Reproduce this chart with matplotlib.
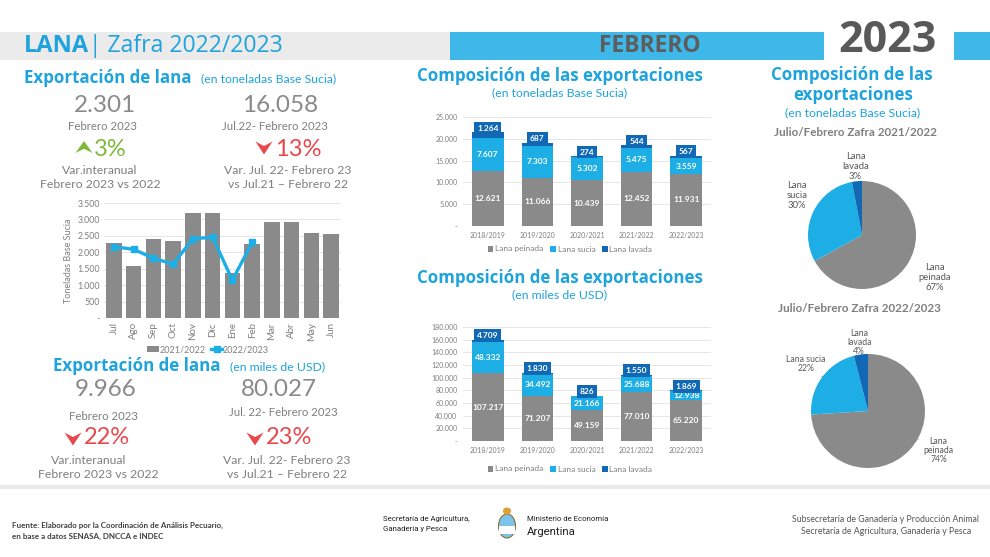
import matplotlib
matplotlib.use('Agg')
import matplotlib.pyplot as plt
from matplotlib.patches import Rectangle, Polygon, Ellipse
import numpy as np

W, H = 990, 557
plt.rcParams['font.family'] = ['Lato', 'DejaVu Sans']
HEAD = 'Open Sans'

BLUE_T = '#1fa3dc'
GREY_T = '#7f7f7f'
GREY_N = '#8a8a8a'
GREY_BAR = '#8a8a8a'
LIGHT = '#1eaee6'
DARK = '#1168b5'
GREEN = '#7cbb3a'
RED = '#e8474c'

# ---- data ----
months = ['Jul', 'Ago', 'Sep', 'Oct', 'Nov', 'Dic', 'Ene', 'Feb', 'Mar', 'Abr', 'May', 'Jun']
tons_2122 = [2280, 1570, 2400, 2350, 3200, 3190, 1380, 2250, 2920, 2920, 2590, 2550]
tons_2223 = [2170, 2090, 1820, 1640, 2410, 2460, 1150, 2301]

zafras = ['2018/2019', '2019/2020', '2020/2021', '2021/2022', '2022/2023']
tons_peinada = [12621, 11066, 10439, 12452, 11931]
tons_sucia = [7607, 7303, 5302, 5475, 3559]
tons_lavada = [1264, 687, 274, 544, 567]
usd_peinada = [107217, 71207, 49159, 77010, 65220]
usd_sucia = [48332, 34492, 21166, 25688, 12938]
usd_lavada = [4709, 1830, 826, 1550, 1869]

tipos = ['Lana peinada', 'Lana sucia', 'Lana lavada']
pie_2122 = [67, 30, 3]
pie_2223 = [74, 22, 4]


def miles(v, pos=None):
    return '-' if v == 0 else f'{v:,.0f}'.replace(',', '.')


fig = plt.figure(figsize=(W / 100, H / 100), dpi=100)

# pixel overlay for bands and free text
bg = fig.add_axes([0, 0, 1, 1])
bg.set_xlim(0, W)
bg.set_ylim(H, 0)
bg.axis('off')


def add_ax(x0, y0, x1, y1):
    ax = fig.add_axes([x0 / W, 1 - y1 / H, (x1 - x0) / W, (y1 - y0) / H])
    ax.set_facecolor('none')
    return ax


def txt(x, y, s, size, color=GREY_T, ha='center', weight='normal', **kw):
    return bg.text(x, y, s, fontsize=size, color=color, ha=ha, va='center', fontweight=weight, **kw)


def arrow(cx, cy, w, h, up, color):
    s = -1 if up else 1
    pts = [(cx - w / 2, cy - s * h / 2), (cx, cy - s * h / 2 + s * h * 0.35),
           (cx + w / 2, cy - s * h / 2), (cx, cy + s * h / 2)]
    bg.add_patch(Polygon(pts, closed=True, color=color, lw=0))


def head(x, y, s, ha='left', size=12.2):
    return txt(x, y, s, size, color=BLUE_T, ha=ha, weight='bold', family=HEAD)


# ---- header ----
bg.add_patch(Rectangle((0, 32), 450, 28, color='#ebebeb', lw=0))
bg.add_patch(Rectangle((450, 32), 374, 28, color='#3db8e8', lw=0))
bg.add_patch(Rectangle((954, 32), 36, 28, color='#3db8e8', lw=0))
bg.add_patch(Rectangle((0, 485), W, 4, color='#ebebeb', lw=0))
lana = txt(24, 46, 'LANA', 17, color=BLUE_T, ha='left', weight='bold', family=HEAD)
fig.canvas.draw()
x_end = bg.transData.inverted().transform(lana.get_window_extent().p1)[0]
txt(x_end, 46, '| Zafra 2022/2023', 16.6, color=BLUE_T, ha='left', family=HEAD)
txt(650, 46, 'FEBRERO', 16.5, color='#5d5d5d', weight='bold', family='Open Sans')
txt(887, 41, '2023', 31, color='#595959', weight='bold', family='Open Sans')

# ---- KPI blocks ----
head(24, 78, 'Exportación de lana')
txt(201, 79, '(en toneladas Base Sucia)', 8.8, color=BLUE_T, ha='left')
txt(105, 105, '2.301', 17.5, color=GREY_N)
txt(280, 105, '16.058', 17.5, color=GREY_N)
txt(102, 126, 'Febrero 2023', 8.2)
txt(275, 127, 'Jul.22- Febrero 2023', 8.2)
arrow(84, 147, 17, 12, True, GREEN)
txt(94, 149, '3%', 17, color=GREEN, ha='left')
arrow(264, 148, 17, 13, False, RED)
txt(275, 149, '13%', 17, color=RED, ha='left')
txt(100, 171, 'Var.interanual', 8.8)
txt(100, 185, 'Febrero 2023 vs 2022', 8.8)
txt(288, 171, 'Var. Jul. 22- Febrero 23', 8.8)
txt(288, 185, 'vs Jul.21 – Febrero 22', 8.8)

head(53, 366, 'Exportación de lana')
txt(230, 367, '(en miles de USD)', 8.8, color=BLUE_T, ha='left')
txt(106, 389, '9.966', 17.5, color=GREY_N)
txt(279, 389, '80.027', 17.5, color=GREY_N)
txt(103, 417, 'Febrero 2023', 8.2)
txt(283, 413, 'Jul. 22- Febrero 2023', 8.2)
arrow(73, 439, 17, 13, False, RED)
txt(84, 438, '22%', 17, color=RED, ha='left')
arrow(255, 439, 17, 13, False, RED)
txt(266, 438, '23%', 17, color=RED, ha='left')
txt(89, 460, 'Var.interanual', 8.8)
txt(98, 474, 'Febrero 2023 vs 2022', 8.8)
txt(287, 460, 'Var. Jul. 22- Febrero 23', 8.8)
txt(287, 474, 'vs Jul.21 – Febrero 22', 8.8)

# ---- monthly chart ----
ax = add_ax(104, 203, 341, 318)
x = np.arange(len(months))
b = ax.bar(x, tons_2122, 0.79, color=GREY_BAR, zorder=2, label='2021/2022')
l, = ax.plot(np.arange(len(tons_2223)), tons_2223, color=LIGHT, lw=2.4, marker='s', ms=5,
             zorder=3, label='2022/2023')
ax.set_xlim(-0.5, len(months) - 0.5)
ax.set_ylim(0, 3500)
ax.set_yticks(np.arange(0, 3501, 500))
ax.yaxis.set_major_formatter(miles)
ax.set_xticks(x)
ax.set_xticklabels(months, rotation=90)
ax.tick_params(length=0, labelsize=6.3, labelcolor=GREY_T, pad=3)
ax.tick_params(axis='x', labelsize=7)
ax.grid(axis='y', color='#e6e6e6', lw=0.7, zorder=0)
for sp in ax.spines.values():
    sp.set_visible(False)
ax.set_ylabel('Toneladas Base Sucia', fontsize=6.5, color=GREY_T, labelpad=3)
ax.legend([b, l], ['2021/2022', '2022/2023'], loc='center', bbox_to_anchor=(208 / W, 1 - 350 / H),
          bbox_transform=fig.transFigure, ncol=2, frameon=False, fontsize=6.5, labelcolor=GREY_T,
          handlelength=1.3, handleheight=0.6, handletextpad=0.05, columnspacing=0.6)


# ---- stacked bars ----
def stacked(y0, y1, pein, suc, lav, ymax, step, ly):
    ax = add_ax(463, y0, 711, y1)
    xs = np.arange(len(zafras))
    pein, suc, lav = np.array(pein), np.array(suc), np.array(lav)
    ax.bar(xs, pein, 0.64, color=GREY_BAR, zorder=2, label=tipos[0])
    ax.bar(xs, suc, 0.64, bottom=pein, color=LIGHT, zorder=2, label=tipos[1])
    ax.bar(xs, lav, 0.64, bottom=pein + suc, color=DARK, zorder=2, label=tipos[2])
    for i in xs:
        ax.text(i, pein[i] / 2, miles(pein[i]), ha='center', va='center', color='white',
                fontsize=6, fontweight='bold', zorder=4)
        ax.text(i, pein[i] + suc[i] / 2, miles(suc[i]), ha='center', va='center', color='white',
                fontsize=6, fontweight='bold', zorder=4)
        ax.annotate(miles(lav[i]), (i, pein[i] + suc[i] + lav[i]), xytext=(0, 3),
                    textcoords='offset points', ha='center', va='center', color='white',
                    fontsize=6, fontweight='bold', zorder=5,
                    bbox=dict(boxstyle='square,pad=0.35', fc=DARK, ec='none'))
    ax.set_xlim(-0.5, len(zafras) - 0.5)
    ax.set_ylim(0, ymax)
    ax.set_yticks(np.arange(0, ymax + 1, step))
    ax.yaxis.set_major_formatter(miles)
    ax.set_xticks(xs)
    ax.set_xticklabels(zafras)
    ax.tick_params(length=0, labelsize=5, labelcolor=GREY_T, pad=4)
    ax.grid(axis='y', color='#e6e6e6', lw=0.7, zorder=0)
    for sp in ax.spines.values():
        sp.set_visible(False)
    ax.legend(loc='center', bbox_to_anchor=(570 / W, 1 - ly / H), bbox_transform=fig.transFigure,
              ncol=3, frameon=False, fontsize=6, labelcolor=GREY_T, handlelength=0.7,
              handleheight=0.7, handletextpad=0.2, columnspacing=0.8)


head(560, 76, 'Composición de las exportaciones', ha='center')
txt(560, 93, '(en toneladas Base Sucia)', 8.8, color=BLUE_T)
stacked(117, 226, tons_peinada, tons_sucia, tons_lavada, 25000, 5000, 249)

head(560, 278, 'Composición de las exportaciones', ha='center')
txt(560, 295, '(en miles de USD)', 8.8, color=BLUE_T)
stacked(327, 441, usd_peinada, usd_sucia, usd_lavada, 180000, 20000, 469)

# ---- pies ----
head(852, 75, 'Composición de las', ha='center')
head(853, 95, 'exportaciones', ha='center')
txt(853, 113, '(en toneladas Base Sucia)', 8.8, color=BLUE_T)
txt(855, 133, 'Julio/Febrero Zafra 2021/2022', 8.4, weight='bold')
txt(859, 309, 'Julio/Febrero Zafra 2022/2023', 8.4, weight='bold')


def pie(cx, cy, r, vals, names, place, leaders, fs, ls):
    ax = add_ax(cx - r, cy - r, cx + r, cy + r)
    wedges, _ = ax.pie(vals, colors=[GREY_BAR, LIGHT, DARK], startangle=90, counterclock=False,
                       radius=1, wedgeprops=dict(lw=0))
    ax.set_xlim(-1, 1)
    ax.set_ylim(-1, 1)
    for w, v, n, (d, dt), lead in zip(wedges, vals, names, place, leaders):
        ang = np.deg2rad((w.theta1 + w.theta2) / 2 + dt)
        pos = (d * np.cos(ang), d * np.sin(ang))
        kw = dict(arrowprops=dict(arrowstyle='-', color='#8c8c8c', lw=0.6)) if lead else {}
        ax.annotate(f'{n}\n{v}%', xy=(np.cos(ang), np.sin(ang)), xytext=pos, ha='center',
                    va='center', fontsize=fs, color='#595959', linespacing=ls,
                    annotation_clip=False, **kw)


pie(862, 235, 54, pie_2122, [t.replace(' ', '\n') for t in tipos],
    [(1.56, 0), (1.4, -6), (1.28, 0)], [False, False, False], 6.8, 1.15)
pie(868, 411, 57, pie_2223, ['Lana\npeinada', 'Lana sucia', 'Lana\nlavada'],
    [(1.42, 14), (1.36, -1), (1.22, 0)], [True, True, False], 6.2, 1.0)

# ---- footer ----
txt(12, 525, 'Fuente: Elaborado por la Coordinación de Análisis Pecuario,', 5.8,
    color='#404040', ha='left', weight='bold')
txt(12, 536, 'en base a datos SENASA, DNCCA e INDEC', 5.8, color='#404040', ha='left', weight='bold')
txt(383, 519, 'Secretaría de Agricultura,', 5.6, color='#222222', ha='left', family='Roboto')
txt(383, 529, 'Ganadería y Pesca', 5.6, color='#222222', ha='left', family='Roboto')
bg.add_patch(Ellipse((507, 526), 17, 24, fc='#7cc3ea', ec='#8a6d3b', lw=0.8))
bg.add_patch(Rectangle((499, 526), 16, 8, fc='white', ec='none'))
bg.add_patch(Ellipse((507, 511), 8, 7, fc='#e0a030', ec='none'))
txt(527, 519, 'Ministerio de Economía', 5.6, color='#222222', ha='left', family='Roboto')
txt(527, 532, 'Argentina', 8.2, color='#222222', ha='left', family='Roboto')
txt(886, 519, 'Subsecretaría de Ganadería y Producción Animal', 6.3, color='#555555')
txt(886, 531, 'Secretaría de Agricultura, Ganadería y Pesca', 6.3, color='#555555')

fig.savefig('out.png', dpi=100)
